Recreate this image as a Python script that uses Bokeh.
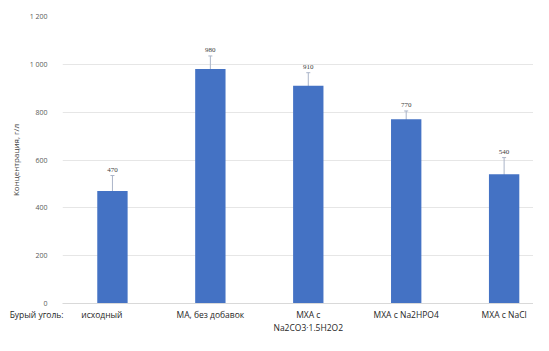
from bokeh.plotting import figure
from bokeh.models import (ColumnDataSource, Whisker, LabelSet, FixedTicker, TeeHead, Range1d)
from bokeh.embed import file_html
from bokeh.resources import INLINE

NB = "\u00a0"
categories = ["исходный", "МА, без добавок", "МХА с\nNa2CO3·1.5H2O2", "МХА с Na2HPO4", "МХА с NaCl"]
first_prefix = "Бурый уголь:"
values = [470, 980, 910, 770, 540]
errors = [65, 55, 55, 35, 70]
value_labels = ["470", "980", "910", "770", "540"]
y_ticks = [0, 200, 400, 600, 800, 1000, 1200]
y_tick_labels = ["0", "200", "400", "600", "800", "1 000", "1 200"]
y_title = "Концентрация, г/л"

xs = list(range(len(categories)))
tick_text = list(categories)
tick_text[0] = first_prefix + NB * 8 + categories[0] + NB * 42

src = ColumnDataSource(dict(
    x=xs,
    top=values,
    upper=[v + e for v, e in zip(values, errors)],
    lower=[v - e for v, e in zip(values, errors)],
    lab=value_labels,
))

p = figure(x_range=Range1d(-0.51, 4.30), y_range=Range1d(0, 1200),
           width=533, height=335, output_backend="svg", toolbar_location=None,
           min_border_left=62, min_border_right=0, min_border_top=16, min_border_bottom=8)
p.outline_line_color = None
p.background_fill_color = "white"

p.vbar(x="x", top="top", width=0.31, source=src, fill_color="#4472C4", line_color=None)

w = Whisker(source=src, base="x", upper="upper", lower="lower",
            line_color="#aab4c8", line_width=1,
            upper_head=TeeHead(size=4, line_color="#aab4c8", line_width=1),
            lower_head=None)
p.add_layout(w)

ls = LabelSet(x="x", y="upper", text="lab", source=src, text_align="center",
              text_baseline="bottom", y_offset=4, text_font_size="7px",
              text_color="#404040", text_font="Open Sans")
p.add_layout(ls)

p.yaxis.ticker = FixedTicker(ticks=y_ticks)
p.yaxis.major_label_overrides = {t: l for t, l in zip(y_ticks, y_tick_labels)}
p.yaxis.axis_line_color = None
p.yaxis.major_tick_line_color = None
p.yaxis.minor_tick_line_color = None
p.yaxis.major_tick_out = 0
p.yaxis.major_tick_in = 0
p.yaxis.minor_tick_out = 0
p.yaxis.major_label_standoff = 15
p.yaxis.major_label_text_font_size = "7px"
p.yaxis.major_label_text_color = "#595959"
p.yaxis.major_label_text_font = "Open Sans"
p.yaxis.axis_label = y_title
p.yaxis.axis_label_text_font_size = "8px"
p.yaxis.axis_label_text_font_style = "normal"
p.yaxis.axis_label_text_color = "#404040"
p.yaxis.axis_label_text_font = "Open Sans"
p.yaxis.axis_label_standoff = 6

p.xaxis.ticker = FixedTicker(ticks=xs)
p.xaxis.major_label_overrides = {x: t for x, t in zip(xs, tick_text)}
p.xaxis.axis_line_color = "#d9d9d9"
p.xaxis.major_tick_line_color = None
p.xaxis.minor_tick_line_color = None
p.xaxis.major_tick_out = 0
p.xaxis.major_tick_in = 0
p.xaxis.minor_tick_out = 0
p.xaxis.major_label_standoff = 5
p.xaxis.major_label_text_font_size = "8.5px"
p.xaxis.major_label_text_color = "#262626"
p.xaxis.major_label_text_font = "Open Sans"

p.xgrid.grid_line_color = None
p.ygrid.grid_line_color = "#e6e6e6"

open("out.html", "w").write(file_html(p, INLINE))
